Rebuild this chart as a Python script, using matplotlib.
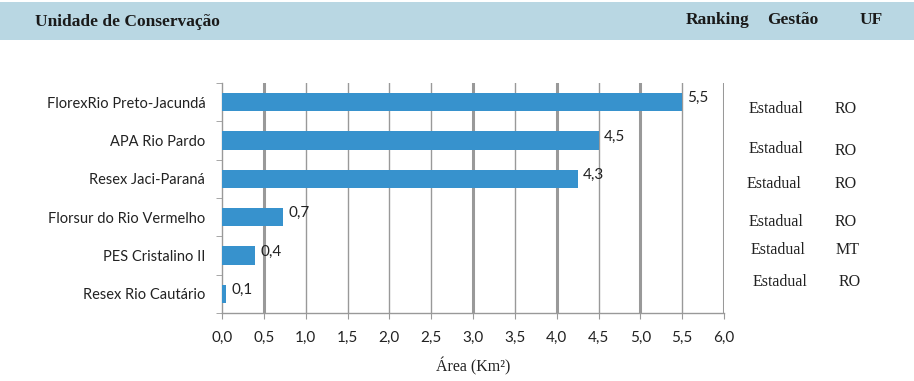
import matplotlib

matplotlib.use("Agg")
import matplotlib.pyplot as plt
from matplotlib.patches import Rectangle

# data (top to bottom)
unidades = [
    "FlorexRio Preto-Jacundá",
    "APA Rio Pardo",
    "Resex Jaci-Paraná",
    "Florsur do Rio Vermelho",
    "PES Cristalino II",
    "Resex Rio Cautário",
]
area = [5.5, 4.5, 4.25, 0.73, 0.4, 0.05]
area_labels = ["5,5", "4,5", "4,3", "0,7", "0,4", "0,1"]
gestao = ["Estadual", "Estadual", "Estadual", "Estadual", "Estadual", "Estadual"]
uf = ["RO", "RO", "RO", "RO", "MT", "RO"]
xticks = [0.0, 0.5, 1.0, 1.5, 2.0, 2.5, 3.0, 3.5, 4.0, 4.5, 5.0, 5.5, 6.0]
thick_grid = [0.5, 3.0, 4.0, 5.0, 6.0]

W, H, DPI = 914, 381, 100
fig = plt.figure(figsize=(W / DPI, H / DPI), dpi=DPI)

# header band
fig.patches.append(Rectangle((0, 1 - 40 / H), 1, 38 / H, transform=fig.transFigure,
                             facecolor="#b9d7e3", edgecolor="none", zorder=0))
hdr = dict(family="Liberation Serif", fontweight="bold", fontsize=12.5,
           color="#1a1a1a", va="center")
fig.text(35 / W, 1 - 22 / H, "Unidade de Conservação", ha="left", **hdr)
fig.text(686 / W, 1 - 20 / H, "Ranking", ha="left", **hdr)
fig.text(767 / W, 1 - 20 / H, "Gestão", ha="left", **hdr)
fig.text(860 / W, 1 - 20 / H, "UF", ha="left", **hdr)

ax = fig.add_axes([222 / W, 1 - 313 / H, 502 / W, 230 / H])
n = len(unidades)
ypos = [n - 1 - i for i in range(n)]
ax.barh(ypos, area, height=0.48, color="#3792cd", zorder=3)
for y, v, lab in zip(ypos, area, area_labels):
    ax.text(v + 0.06, y + 0.1, lab, va="center", ha="left", fontsize=11,
            family="Lato", color="#222222", zorder=4)

ax.set_xlim(0, 6.0)
ax.set_ylim(-0.5, n - 0.5)
ax.set_xticks(xticks)
ax.set_xticklabels([f"{t:.1f}".replace(".", ",") for t in xticks],
                   family="Lato", fontsize=11, color="#222222")
ax.set_yticks(ypos)
ax.set_yticklabels(unidades, family="Lato", fontsize=10.5, color="#222222")
ax.set_yticks([y - 0.5 for y in range(n + 1)], minor=True)
ax.tick_params(axis="y", which="major", length=0, pad=12)
ax.tick_params(axis="y", which="minor", length=4, color="#999999", direction="out")
ax.tick_params(axis="x", length=4, color="#999999", direction="out", pad=9)

for t in xticks[1:]:
    lw = 2.2 if t in thick_grid else 1.0
    ax.axvline(t, color="#999999", lw=lw, zorder=1)

for s in ("top", "right"):
    ax.spines[s].set_visible(False)
for s in ("left", "bottom"):
    ax.spines[s].set_color("#999999")
    ax.spines[s].set_linewidth(1.0)

ax.set_xlabel("Área (Km²)", family="Liberation Serif", fontsize=11.5,
              color="#222222", labelpad=9)

# side table: gestao / UF
gestao_xy = [(749, 109), (749, 149), (747, 184), (749, 222), (751, 250), (753, 282)]
uf_xy = [(835, 109), (835, 151), (835, 184), (835, 222), (836, 250), (839, 282)]
for g, (gx, gy), u, (ux, uy) in zip(gestao, gestao_xy, uf, uf_xy):
    fig.text(gx / W, 1 - gy / H, g, family="Liberation Serif", fontsize=11.5,
             color="#222222", va="center", ha="left")
    fig.text(ux / W, 1 - uy / H, u, family="Liberation Serif", fontsize=11.5,
             color="#222222", va="center", ha="left")

fig.savefig("out.png", dpi=DPI)
plt.close(fig)
